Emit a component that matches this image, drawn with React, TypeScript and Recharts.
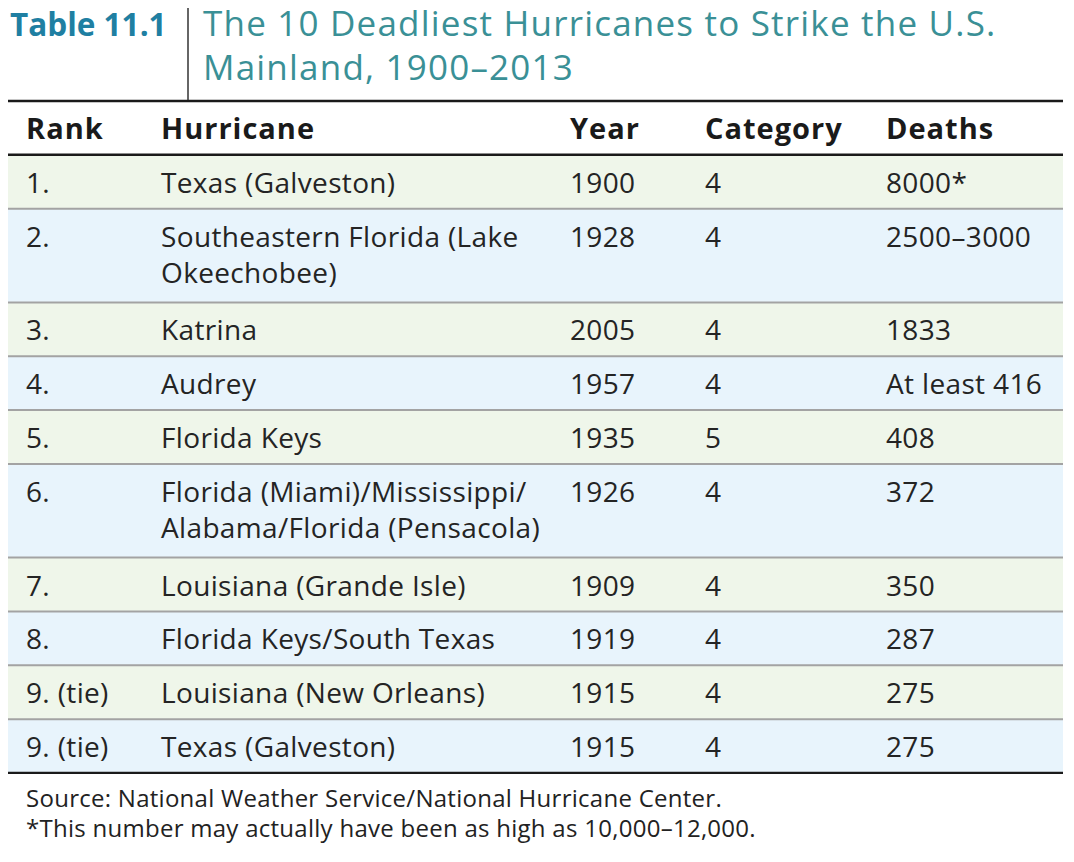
import { ComposedChart, XAxis, YAxis, Scatter, ReferenceArea, ReferenceLine } from "recharts";

// table content
const HEADERS = ["Rank", "Hurricane", "Year", "Category", "Deaths"];
const RANKS = ["1.", "2.", "3.", "4.", "5.", "6.", "7.", "8.", "9. (tie)", "9. (tie)"];
const HURRICANES = [
  "Texas (Galveston)",
  "Southeastern Florida (Lake\nOkeechobee)",
  "Katrina",
  "Audrey",
  "Florida Keys",
  "Florida (Miami)/Mississippi/\nAlabama/Florida (Pensacola)",
  "Louisiana (Grande Isle)",
  "Florida Keys/South Texas",
  "Louisiana (New Orleans)",
  "Texas (Galveston)",
];
const YEARS = ["1900", "1928", "2005", "1957", "1935", "1926", "1909", "1919", "1915", "1915"];
const CATEGORIES = ["4", "4", "4", "4", "5", "4", "4", "4", "4", "4"];
const DEATHS = ["8000*", "2500–3000", "1833", "At least 416", "408", "372", "350", "287", "275", "275"];

const TITLE_TAG = "Table 11.1";
const TITLE_LINES = ["The 10 Deadliest Hurricanes to Strike the U.S.", "Mainland, 1900–2013"];
const NOTES = [
  "Source: National Weather Service/National Hurricane Center.",
  "*This number may actually have been as high as 10,000–12,000.",
];

// layout
const FONT = "'Open Sans', 'Noto Sans', sans-serif";
const TABLE_W = 1055;
const COL_X = [18, 153, 562, 697, 878];
const EXTRA_LINE = 0.74; // extra height (row units) for each wrapped line
const GREEN = "#eff6ea";
const BLUE = "#e8f4fc";

const columns = [RANKS, HURRICANES, YEARS, CATEGORIES, DEATHS];

// row tops in row units, header takes the first unit
let cursor = 1;
const rows = RANKS.map((_, i) => {
  const lines = HURRICANES[i].split("\n").length;
  const top = cursor;
  const bottom = top + 1 + EXTRA_LINE * (lines - 1);
  cursor = bottom;
  return { top, bottom, idx: i };
});
const TOTAL = cursor;

const headerData = HEADERS.map((h, c) => ({ x: COL_X[c], y: 0, text: h }));
const cellData = columns.map((col, c) =>
  col.map((t, i) => ({ x: COL_X[c], y: rows[i].top, text: t }))
);

const CellText = (props: any) => {
  const { cx, cy, payload, bold } = props;
  const lines = String(payload.text).split("\n");
  return (
    <text
      x={cx}
      y={cy + 38}
      fontFamily={FONT}
      fontSize={bold ? 29 : 28}
      fontWeight={bold ? 700 : 400}
      letterSpacing={bold ? 1 : 0.35}
      fill={bold ? "#1a1a1a" : "#242424"}
    >
      {lines.map((l, k) => (
        <tspan key={k} x={cx} dy={k === 0 ? 0 : 36}>
          {l}
        </tspan>
      ))}
    </text>
  );
};

export default function App() {
  return (
    <div style={{ position: "relative", width: 1058, height: 846 }}>
      <ComposedChart
        width={1056}
        height={766}
        margin={{ top: 93, right: 1, left: 0, bottom: 1 }}
        style={{ position: "absolute", left: 0, top: 0 }}
      >
        <XAxis type="number" dataKey="x" domain={[0, TABLE_W]} hide />
        <YAxis type="number" dataKey="y" domain={[0, TOTAL]} reversed hide />

        {/* row backgrounds */}
        {rows.map((r) => (
          <ReferenceArea
            key={`bg-${r.idx}`}
            x1={0}
            x2={TABLE_W}
            y1={r.top}
            y2={r.bottom}
            fill={r.idx % 2 === 0 ? GREEN : BLUE}
            fillOpacity={1}
            stroke="none"
          />
        ))}

        {/* separators */}
        {rows.slice(0, -1).map((r) => (
          <ReferenceLine key={`sep-${r.idx}`} y={r.bottom} stroke="#a3a3a3" strokeWidth={2} />
        ))}
        <ReferenceLine y={0} stroke="#1a1a1a" strokeWidth={2.5} />
        <ReferenceLine y={1} stroke="#1a1a1a" strokeWidth={2.5} />
        <ReferenceLine y={TOTAL} stroke="#1a1a1a" strokeWidth={2.5} />

        <Scatter data={headerData} isAnimationActive={false} shape={(p: any) => <CellText {...p} bold />} />
        {cellData.map((d, c) => (
          <Scatter key={`col-${c}`} data={d} isAnimationActive={false} shape={(p: any) => <CellText {...p} />} />
        ))}
      </ComposedChart>

      <svg
        width={1058}
        height={846}
        style={{ position: "absolute", left: 0, top: 0, pointerEvents: "none", overflow: "visible" }}
      >
        <text x={2} y={28} fontFamily={FONT} fontSize={31.5} fontWeight={700} fill="#1f7fa2">
          {TITLE_TAG}
        </text>
        <line x1={180} x2={180} y1={-2} y2={92} stroke="#333" strokeWidth={1.5} />
        {TITLE_LINES.map((t, i) => (
          <text key={i} x={195} y={28 + i * 44} fontFamily={FONT} fontSize={35} letterSpacing={1.2} fill="#3a9096">
            {t}
          </text>
        ))}
        {NOTES.map((t, i) => (
          <text key={i} x={18} y={799 + i * 30} fontFamily={FONT} fontSize={24} letterSpacing={0.27} fill="#222">
            {t}
          </text>
        ))}
      </svg>
    </div>
  );
}
